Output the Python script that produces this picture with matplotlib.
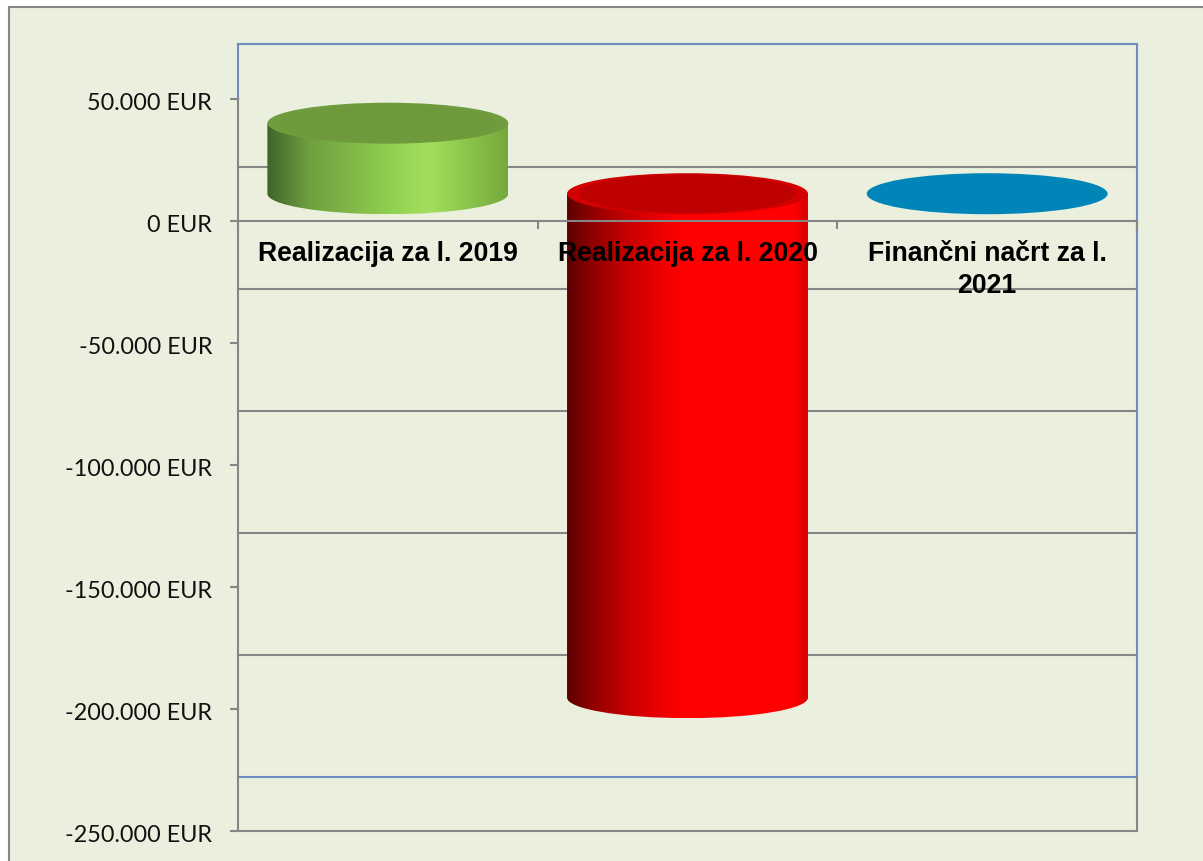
import numpy as np
import matplotlib
matplotlib.use("Agg")
import matplotlib.pyplot as plt
from matplotlib.colors import LinearSegmentedColormap
from matplotlib.patches import Ellipse, PathPatch, Rectangle
from matplotlib.path import Path
from matplotlib.transforms import ScaledTranslation

categories = ["Realizacija za l. 2019", "Realizacija za l. 2020", "Finančni načrt za l.\n2021"]
values = [28900, -206500, 0]
top_colors = ["#6E9A3C", "#BE0000", "#0085B8"]
rim_colors = ["#6F9C3C", "#D20000", "#0085B8"]
body_stops = [
    [(0, "#3F642A"), (0.17, "#6F9E3E"), (0.5, "#8FCE50"), (0.67, "#A2E05C"), (0.83, "#8CC64C"), (1, "#76A83E")],
    [(0, "#5C0000"), (0.1, "#8E0000"), (0.25, "#C80000"), (0.42, "#F40000"), (0.5, "#FF0000"), (0.94, "#FF0000"), (1, "#D80000")],
    [(0, "#005A80"), (0.5, "#0085B8"), (1, "#0085B8")],
]
y_ticks = [50000, 0, -50000, -100000, -150000, -200000, -250000]
y_labels = ["50.000 EUR", "0 EUR", "-50.000 EUR", "-100.000 EUR", "-150.000 EUR", "-200.000 EUR", "-250.000 EUR"]

GRAY = "#868686"
BLUE = "#6F8DBF"
BG = "#EBEFDE"
DEPTH = 22300
BAR_W = 0.804
ELL_H = 16800
Y_TOP = 72500

W, H = 1203, 862
fig = plt.figure(figsize=(W / 100, H / 100), dpi=100, facecolor="white")
fig.add_artist(Rectangle((9 / W, -0.1), 1.1, 1.1 - 8 / H + 0.0, transform=fig.transFigure,
                         facecolor=BG, edgecolor=GRAY, linewidth=1.5, zorder=-5))
ax = fig.add_axes([238 / W, (H - 832) / H, (1137 - 238) / W, (832 - 45) / H])
ax.set_facecolor("none")
ax.set_xlim(-0.5, 2.5)
ax.set_ylim(-250000, Y_TOP)

for s in ("top", "right"):
    ax.spines[s].set_visible(False)
ax.spines["left"].set_color(GRAY)
ax.spines["left"].set_linewidth(1.5)
ax.spines["left"].set_bounds(-250000, 50000)
ax.spines["bottom"].set_position(("data", 0))
ax.spines["bottom"].set_color(GRAY)
ax.spines["bottom"].set_linewidth(1.5)

# back wall and floor
for t in y_ticks[:-1]:
    ax.plot([-0.5, 2.5], [t + DEPTH] * 2, color=GRAY, lw=1.5, zorder=1, solid_capstyle="butt")
ax.plot([-0.5, 2.5], [y_ticks[-1] + DEPTH] * 2, color=BLUE, lw=1.5, zorder=1)
ax.plot([-0.5, 2.5], [Y_TOP] * 2, color=BLUE, lw=1.5, zorder=1, clip_on=False)
ax.plot([-0.5, -0.5], [50000, Y_TOP], color=BLUE, lw=1.5, zorder=1, clip_on=False)
ax.plot([2.5, 2.5], [-250000 + DEPTH, Y_TOP], color=BLUE, lw=1.5, zorder=1, clip_on=False)
ax.plot([2.5, 2.5], [-250000, -250000 + DEPTH], color=GRAY, lw=1.5, zorder=1, clip_on=False)
ax.plot([-0.5, 2.5], [-250000] * 2, color=GRAY, lw=1.5, zorder=1, clip_on=False)
ax.plot([2.5, 2.5], [0, -3300], color=GRAY, lw=1.5, zorder=1, clip_on=False)

# cylinders
k = 0.5523
for i, (v, tc, rc, stops) in enumerate(zip(values, top_colors, rim_colors, body_stops)):
    base = DEPTH / 2
    top_y = max(v, 0) + base
    bot_y = min(v, 0) + base
    rx, ry = BAR_W / 2, ELL_H / 2
    if top_y != bot_y:
        verts = [(i - rx, top_y), (i + rx, top_y), (i + rx, bot_y),
                 (i + rx, bot_y - k * ry), (i + k * rx, bot_y - ry), (i, bot_y - ry),
                 (i - k * rx, bot_y - ry), (i - rx, bot_y - k * ry), (i - rx, bot_y),
                 (i - rx, top_y)]
        codes = [Path.MOVETO, Path.LINETO, Path.LINETO, Path.CURVE4, Path.CURVE4, Path.CURVE4,
                 Path.CURVE4, Path.CURVE4, Path.CURVE4, Path.CLOSEPOLY]
        clip = PathPatch(Path(verts, codes), facecolor="none", edgecolor="none", transform=ax.transData)
        ax.add_patch(clip)
        cmap = LinearSegmentedColormap.from_list(f"c{i}", stops)
        im = ax.imshow(np.linspace(0, 1, 256)[None, :], cmap=cmap, aspect="auto",
                       extent=(i - rx, i + rx, bot_y - ry, top_y), zorder=1.5, interpolation="bilinear")
        im.set_clip_path(clip)
    ax.add_patch(Ellipse((i, top_y), BAR_W, ELL_H, facecolor=rc, edgecolor="none", zorder=2))
    ax.add_patch(Ellipse((i, top_y), BAR_W * 0.9, ELL_H * 0.94, facecolor=tc, edgecolor="none", zorder=2.1))
ax.set_xlim(-0.5, 2.5)
ax.set_ylim(-250000, Y_TOP)

# ticks
ax.set_yticks(y_ticks)
ax.set_yticklabels(y_labels, fontfamily="Lato", fontsize=16.8, color="#111111")
ax.tick_params(axis="y", length=6, width=1.5, color=GRAY, pad=12.7)
ax.set_xticks([-0.5, 0.5, 1.5, 2.5])
ax.set_xticklabels([])
ax.tick_params(axis="x", which="major", length=6, width=1.5, color=GRAY, direction="out")
ax.set_xticks([0, 1, 2], minor=True)
ax.set_xticklabels(categories, minor=True, fontfamily="Liberation Sans", fontweight="bold",
                   fontsize=19.2, color="black", linespacing=1.29)
ax.tick_params(axis="x", which="minor", length=0, pad=14)
ax.set_axisbelow(False)
shift = ScaledTranslation(0, -1.5 / 100, fig.dpi_scale_trans)
for lab in ax.get_yticklabels():
    lab.set_transform(lab.get_transform() + shift)

fig.savefig("out.png", dpi=100, facecolor=fig.get_facecolor())
